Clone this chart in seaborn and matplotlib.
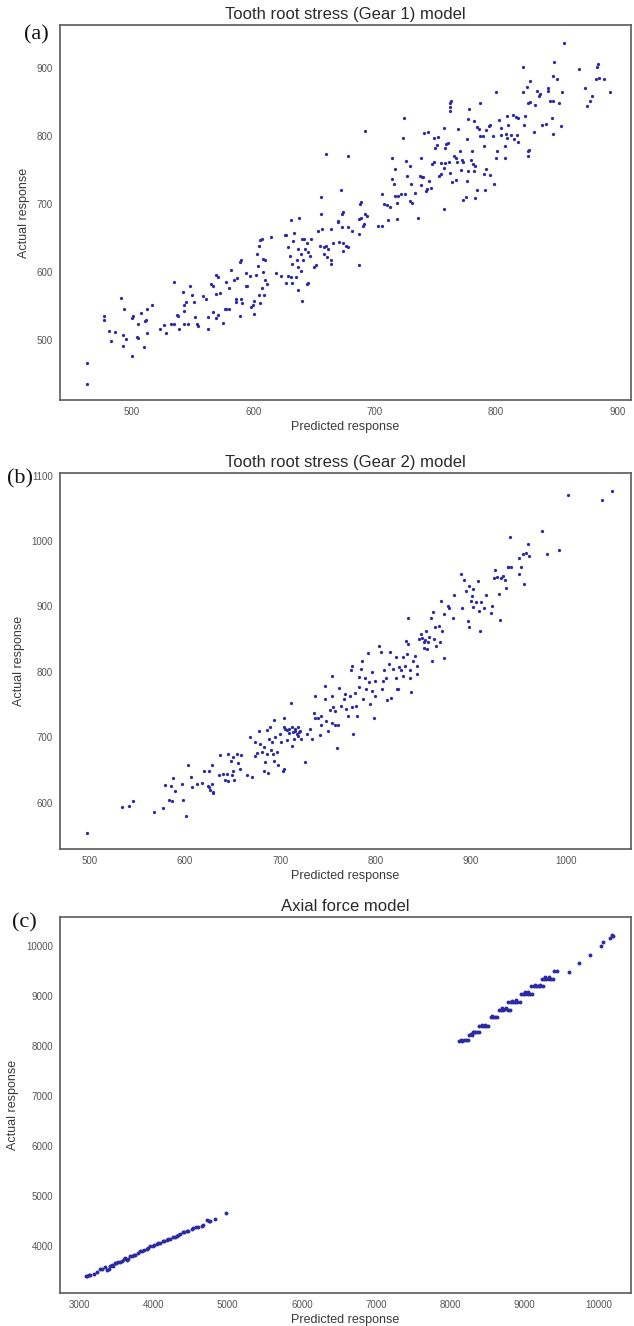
import matplotlib
matplotlib.use("Agg")
import matplotlib.pyplot as plt
import seaborn as sns

# ---- Tooth root stress, gear 1 ----
gear1_pred = [
    463, 463, 477, 477, 481, 486, 483, 491, 494, 493,
    495, 493, 500, 500, 501, 505, 504, 505, 508, 511,
    512, 517, 513, 513, 510, 523, 527, 528, 532, 535,
    535, 539, 542, 543, 537, 538, 543, 545, 543, 546,
    548, 550, 551, 552, 554, 555, 559, 561, 563, 563,
    565, 569, 571, 567, 569, 573, 567, 569, 571, 575,
    577, 578, 580, 578, 580, 582, 584, 586, 586, 587,
    589, 590, 594, 594, 590, 591, 589, 595, 597, 598,
    600, 601, 601, 602, 604, 606, 607, 605, 603, 608,
    610, 608, 610, 611, 607, 605, 609, 606, 615, 619,
    623, 626, 627, 631, 638, 629, 633, 634, 630, 632,
    636, 629, 631, 627, 632, 635, 637, 637, 639, 641,
    642, 644, 643, 645, 637, 640, 645, 648, 647, 650,
    652, 653, 640, 639, 644, 656, 656, 657, 655, 658,
    660, 662, 661, 658, 664, 664, 664, 666, 660, 670,
    670, 672, 673, 674, 671, 674, 676, 678, 674, 673,
    678, 678, 681, 687, 687, 688, 689, 689, 690, 691,
    692, 694, 692, 687, 703, 706, 706, 708, 710, 711,
    713, 714, 714, 716, 717, 717, 718, 719, 718, 722,
    723, 724, 725, 726, 727, 729, 729, 730, 731, 733,
    736, 737, 738, 739, 738, 740, 742, 743, 744, 741,
    745, 746, 747, 749, 750, 751, 749, 752, 753, 755,
    755, 757, 757, 758, 758, 759, 757, 760, 761, 762,
    762, 763, 762, 762, 764, 765, 767, 768, 767, 769,
    770, 771, 772, 773, 773, 775, 776, 776, 777, 778,
    777, 779, 780, 781, 782, 782, 783, 783, 784, 784,
    786, 787, 787, 789, 790, 790, 791, 792, 792, 794,
    795, 795, 797, 798, 800, 800, 801, 802, 804, 804,
    807, 807, 808, 809, 809, 810, 812, 814, 815, 816,
    817, 818, 818, 822, 822, 823, 824, 825, 826, 826,
    827, 828, 826, 828, 831, 832, 834, 835, 836, 838,
    841, 843, 843, 844, 846, 847, 848, 847, 847, 850,
    852, 853, 854, 856, 868, 873, 875, 877, 879, 882,
    883, 884, 885, 889, 894,
]
gear1_actual = [
    467, 436, 536, 529, 513, 512, 498, 562, 546, 507,
    502, 492, 476, 533, 535, 523, 505, 503, 540, 528,
    530, 552, 546, 510, 490, 517, 522, 511, 524, 524,
    585, 516, 571, 543, 537, 535, 551, 556, 523, 524,
    580, 566, 556, 534, 523, 520, 565, 561, 534, 516,
    583, 595, 593, 579, 568, 569, 541, 532, 537, 525,
    545, 545, 545, 585, 577, 603, 588, 561, 556, 591,
    615, 617, 598, 579, 560, 554, 536, 580, 594, 549,
    551, 557, 539, 595, 609, 647, 648, 639, 626, 619,
    618, 600, 589, 582, 576, 567, 567, 555, 652, 599,
    594, 654, 654, 677, 679, 637, 646, 657, 624, 612,
    618, 594, 593, 584, 584, 592, 607, 634, 626, 618,
    648, 642, 634, 629, 574, 557, 584, 648, 624, 607,
    610, 660, 649, 602, 583, 710, 685, 663, 638, 637,
    639, 634, 622, 627, 617, 612, 663, 642, 773, 673,
    675, 720, 685, 688, 644, 642, 639, 637, 631, 666,
    770, 666, 661, 656, 678, 700, 703, 680, 668, 670,
    685, 683, 807, 610, 668, 668, 715, 700, 698, 676,
    695, 767, 736, 729, 751, 712, 678, 712, 701, 714,
    797, 827, 714, 763, 741, 756, 705, 729, 701, 716,
    680, 741, 768, 739, 728, 739, 719, 722, 806, 805,
    734, 724, 759, 761, 783, 787, 797, 799, 741, 760,
    744, 811, 693, 760, 783, 788, 753, 790, 761, 842,
    849, 851, 836, 745, 732, 771, 768, 762, 735, 810,
    778, 750, 765, 706, 762, 710, 734, 795, 749, 839,
    825, 764, 778, 759, 822, 748, 756, 709, 720, 813,
    810, 849, 800, 800, 785, 744, 721, 752, 808, 815,
    816, 742, 800, 729, 768, 865, 778, 824, 801, 811,
    785, 768, 803, 829, 797, 816, 801, 831, 795, 828,
    801, 791, 826, 901, 865, 816, 829, 872, 778, 771,
    780, 881, 849, 850, 806, 846, 866, 859, 862, 816,
    818, 871, 866, 851, 827, 888, 908, 803, 852, 883,
    848, 815, 865, 936, 898, 870, 844, 851, 858, 883,
    902, 905, 885, 884, 864,
]

# ---- Tooth root stress, gear 2 ----
gear2_pred = [
    497, 534, 541, 546, 568, 577, 579, 585, 583, 586,
    588, 590, 597, 598, 601, 603, 606, 607, 613, 618,
    620, 624, 625, 625, 626, 628, 629, 630, 628, 636,
    637, 640, 642, 644, 645, 645, 648, 649, 650, 651,
    652, 655, 656, 658, 659, 665, 668, 670, 674, 674,
    676, 678, 679, 681, 683, 684, 683, 686, 686, 688,
    689, 687, 690, 691, 692, 693, 694, 695, 697, 698,
    700, 701, 703, 704, 704, 705, 707, 707, 709, 711,
    712, 712, 714, 716, 718, 719, 720, 709, 713, 716,
    704, 719,
    721, 726, 722, 728, 731, 733, 735, 736, 737, 740,
    742, 743, 743, 747, 747, 748, 750, 752, 754, 754,
    754, 755, 757, 757, 760, 761, 762, 764, 767, 768,
    769, 771, 773, 774, 775, 775, 776, 778, 779, 781,
    783, 783, 785, 786, 787, 789, 790, 792, 793, 794,
    796, 796, 798, 799, 799, 804, 806, 807, 808, 809,
    811, 812, 814, 815, 816, 818, 821, 822, 823, 824,
    825, 827, 829, 829, 831, 832, 833, 834, 834, 836,
    836, 837, 839, 841, 843, 844, 846, 848, 849, 851,
    851, 852, 853, 854, 855, 856, 858, 859, 860, 861,
    862, 863, 867, 868, 869, 870, 872, 872, 876, 877,
    881, 882, 890, 891, 893, 895, 897, 898, 898, 900,
    901, 902, 902, 905, 907, 909, 910, 911, 914, 916,
    921, 922, 924, 925, 927, 930, 931, 932, 934, 936,
    937, 939, 941, 939, 942, 951, 951, 953, 955, 956,
    958, 960, 961, 975, 980, 992, 1002, 1038, 1048,
]
gear2_actual = [
    554, 593, 594, 602, 585, 592, 627, 626, 604, 603,
    638, 618, 629, 604, 580, 657, 639, 624, 628, 630,
    649, 626, 649, 624, 619, 629, 615, 616, 657, 642,
    672, 643, 634, 644, 674, 633, 664, 642, 670, 649,
    634, 675, 660, 652, 672, 642, 700, 639, 671, 692,
    676, 709, 690, 678, 649, 662, 685, 711, 675, 697,
    715, 645, 681, 692, 675, 664, 726, 701, 677, 657,
    705, 692, 649, 652, 729, 713, 711, 695, 706, 753,
    715, 687, 697, 710, 705, 715, 708, 712, 708, 712,
    716, 702,
    710, 662, 697, 705, 713, 697, 737, 763, 730, 730,
    703, 718, 733, 779, 758, 725, 710, 742, 721, 794,
    763, 746, 740, 718, 684, 719, 775, 748, 758, 766,
    743, 733, 763, 802, 809, 746, 705, 767, 748, 733,
    792, 776, 804, 816, 758, 790, 774, 829, 784, 751,
    800, 770, 729, 786, 763, 840, 831, 774, 786, 802,
    791, 757, 812, 831, 760, 804, 790, 823, 774, 774,
    807, 802, 822, 794, 809, 847, 827, 883, 842, 790,
    803, 769, 817, 824, 796, 809, 850, 858, 852, 845,
    837, 848, 862, 835, 845, 853, 883, 817, 892, 850,
    869, 840, 870, 845, 909, 862, 821, 888, 901, 898,
    883, 917, 949, 898, 941, 923, 878, 868, 931, 909,
    916, 926, 899, 906, 939, 893, 862, 906, 898, 918,
    890, 901, 944, 956, 945, 919, 879, 944, 946, 940,
    928, 961, 1006, 961, 961, 950, 974, 961, 980, 935,
    982, 995, 977, 1015, 980, 987, 1071, 1063, 1076,
]

# ---- Axial force ----
axial_pred = [
    3090, 3110, 3130, 3150, 3200, 3240, 3290, 3310, 3350, 3380,
    3400, 3420, 3440, 3460, 3480, 3500, 3530, 3550, 3575, 3600,
    3620, 3645, 3660, 3690, 3720, 3740, 3760, 3800, 3820, 3850,
    3870, 3910, 3930, 3955, 3990, 4010, 4050, 4070, 4090, 4130,
    4150, 4180, 4200, 4225, 4270, 4290, 4315, 4335, 4360, 4400,
    4420, 4450, 4470, 4520, 4540, 4580, 4600, 4650, 4670, 4720,
    4750, 4760, 4830, 4980,
    8120, 8150, 8180, 8210, 8240, 8140, 8250, 8270, 8290, 8300,
    8330, 8360, 8390, 8320, 8390, 8420, 8450, 8480, 8510, 8430,
    8460, 8540, 8570, 8600, 8630, 8560, 8650, 8680, 8710, 8740,
    8770, 8800, 8700, 8750, 8780, 8810, 8840, 8870, 8900, 8930,
    8830, 8880, 8950, 8980, 9010, 9040, 9070, 9095, 9000, 9050,
    9090, 9120, 9150, 9180, 9210, 9250, 9140, 9200, 9230, 9260,
    9290, 9320, 9350, 9385, 9270, 9330, 9400, 9430, 9600, 9734,
    9882, 10025, 10047, 10146, 10181, 10190,
]
axial_actual = [
    3400, 3410, 3420, 3430, 3450, 3490, 3540, 3550, 3580, 3530,
    3540, 3610, 3620, 3600, 3660, 3670, 3680, 3690, 3700, 3750,
    3770, 3735, 3740, 3800, 3800, 3820, 3830, 3860, 3900, 3910,
    3920, 3950, 3960, 4000, 4010, 4030, 4050, 4060, 4070, 4100,
    4110, 4130, 4140, 4150, 4180, 4190, 4210, 4220, 4250, 4280,
    4290, 4300, 4310, 4350, 4360, 4390, 4395, 4410, 4420, 4520,
    4500, 4510, 4550, 4670,
    8115, 8115, 8120, 8120, 8125, 8130, 8220, 8240, 8230, 8280,
    8280, 8285, 8280, 8295, 8400, 8405, 8400, 8410, 8400, 8430,
    8435, 8580, 8590, 8585, 8590, 8610, 8730, 8735, 8730, 8740,
    8735, 8730, 8765, 8770, 8880, 8885, 8880, 8880, 8885, 8880,
    8915, 8920, 9050, 9055, 9050, 9055, 9050, 9055, 9080, 9085,
    9200, 9205, 9200, 9205, 9200, 9200, 9235, 9235, 9350, 9355,
    9350, 9355, 9350, 9355, 9385, 9390, 9500, 9510, 9488, 9668,
    9834, 10014, 10080, 10168, 10234, 10200,
]

panels = [
    ("(a)", "Tooth root stress (Gear 1) model", gear1_pred, gear1_actual,
     (441, 911), (412, 963), range(500, 901, 100), range(500, 901, 100), 5.5),
    ("(b)", "Tooth root stress (Gear 2) model", gear2_pred, gear2_actual,
     (469, 1068), (529, 1104), range(500, 1001, 100), range(600, 1101, 100), 5.5),
    ("(c)", "Axial force model", axial_pred, axial_actual,
     (2745, 10430), (3068, 10588), range(3000, 10001, 1000), range(4000, 10001, 1000), 8),
]

sns.set_theme(style="white")
plt.rcParams["font.family"] = ["Liberation Sans", "DejaVu Sans"]
plt.rcParams["axes.edgecolor"] = "#5a5a5a"
plt.rcParams["axes.linewidth"] = 1.2

W, H = 634, 1326
fig = plt.figure(figsize=(W / 100, H / 100), dpi=100)

# axes boxes in pixels: left, top, right, bottom
boxes = [(60, 25, 631, 400), (60, 473, 631, 849), (60, 917, 631, 1293)]
letter_pos = [(36, 35), (20, 479), (24, 923)]
point_color = "#2c2ca0"

for (tag, title, xs, ys, xlim, ylim, xt, yt, msize), (l, t, r, b), (lx, ly) in zip(panels, boxes, letter_pos):
    ax = fig.add_axes([l / W, 1 - b / H, (r - l) / W, (b - t) / H])
    sns.scatterplot(x=xs, y=ys, ax=ax, s=msize, color=point_color, linewidth=0)
    ax.set_xlim(*xlim)
    ax.set_ylim(*ylim)
    ax.set_xticks(list(xt))
    ax.set_yticks(list(yt))
    ax.tick_params(axis="both", length=0, labelsize=7, labelcolor="#555555", pad=5)
    ax.set_xlabel("Predicted response", fontsize=9, color="#3a3a3a", labelpad=3)
    ax.set_ylabel("Actual response", fontsize=9, color="#3a3a3a", labelpad=5)
    ax.set_title(title, fontsize=12, color="#2a2a2a", pad=4)
    for sp in ax.spines.values():
        sp.set_visible(True)
    fig.text(lx / W, 1 - ly / H, tag, fontsize=16, family=["Liberation Serif", "DejaVu Serif"],
             ha="center", va="center", color="#111111")

fig.savefig("out.png", dpi=100)
